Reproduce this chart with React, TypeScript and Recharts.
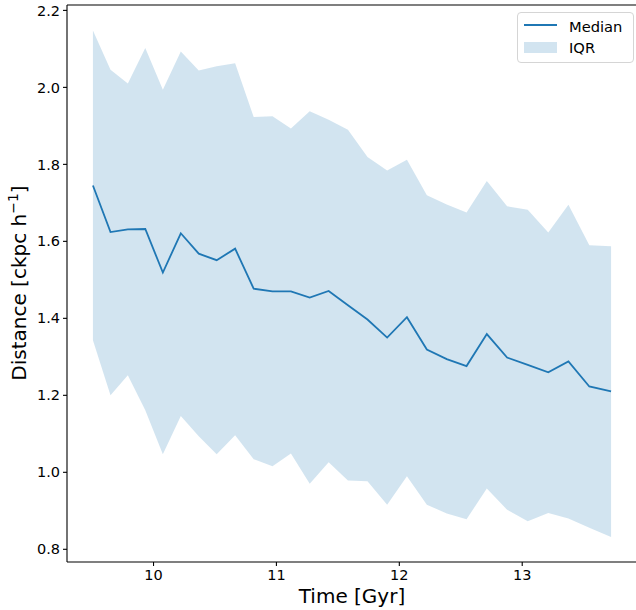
import React from 'react';
import { ComposedChart, Area, Line, XAxis, YAxis } from 'recharts';

const times = [9.507, 9.650, 9.791, 9.933, 10.076, 10.222, 10.368, 10.514, 10.664, 10.815, 10.968, 11.118, 11.271, 11.425, 11.582, 11.741, 11.901, 12.062, 12.224, 12.386, 12.547, 12.712, 12.877, 13.045, 13.212, 13.376, 13.546, 13.723];
const median = [1.745, 1.624, 1.631, 1.632, 1.519, 1.621, 1.568, 1.551, 1.581, 1.477, 1.470, 1.470, 1.454, 1.471, 1.434, 1.397, 1.350, 1.403, 1.319, 1.294, 1.276, 1.359, 1.298, 1.279, 1.260, 1.288, 1.223, 1.210];
const q75 = [2.148, 2.046, 2.010, 2.102, 1.994, 2.093, 2.044, 2.055, 2.063, 1.923, 1.925, 1.893, 1.938, 1.916, 1.890, 1.819, 1.784, 1.812, 1.720, 1.696, 1.675, 1.757, 1.691, 1.682, 1.623, 1.695, 1.590, 1.587];
const q25 = [1.343, 1.200, 1.252, 1.161, 1.047, 1.146, 1.094, 1.047, 1.096, 1.034, 1.016, 1.049, 0.970, 1.026, 0.979, 0.977, 0.916, 0.990, 0.916, 0.893, 0.878, 0.958, 0.903, 0.873, 0.894, 0.880, 0.856, 0.832];
const xTicks = [10, 11, 12, 13];
const yTicks = [0.8, 1.0, 1.2, 1.4, 1.6, 1.8, 2.0, 2.2];
const xDomain = [9.296, 13.934];
const yDomain = [0.767, 2.214];
const legendLabels = ['Median', 'IQR'];

const data = times.map((t, i) => ({ t, median: median[i], iqr: [q25[i], q75[i]] }));

const FONT = 'DejaVu Sans, sans-serif';
const BLUE = '#1f77b4';
const TICK_FS = 14.5;

const LegendBox = () => (
  <div
    style={{
      position: 'absolute',
      left: 517,
      top: 12,
      width: 117,
      height: 51,
      border: '1px solid #d5d5d5',
      borderRadius: 4,
      background: 'rgba(255,255,255,0.8)',
      boxSizing: 'border-box',
    }}
  >
    <svg width={117} height={51} style={{ position: 'absolute', left: -1, top: -1 }}>
      <line x1={7} x2={40} y1={13} y2={13} stroke={BLUE} strokeWidth={1.8} />
      <rect x={7} y={30} width={33} height={11} fill={BLUE} fillOpacity={0.2} />
      <text x={52} y={20} fontSize={14.7} fontFamily={FONT} fill="#000">{legendLabels[0]}</text>
      <text x={52} y={40.5} fontSize={14.7} fontFamily={FONT} fill="#000">{legendLabels[1]}</text>
    </svg>
  </div>
);

const YLabel = () => (
  <text
    x={26}
    y={283}
    transform="rotate(-90 26 283)"
    textAnchor="middle"
    fontSize={20}
    fontFamily={FONT}
    fill="#000"
  >
    Distance [ckpc h
    <tspan dy={-8} fontSize={14}>−1</tspan>
    <tspan dy={8}>]</tspan>
  </text>
);

const XLabel = (props: any) => {
  const vb = props.viewBox || { x: 67, y: 562, width: 571 };
  return (
    <text
      x={vb.x + vb.width / 2}
      y={603}
      textAnchor="middle"
      fontSize={20}
      fontFamily={FONT}
      fill="#000"
    >
      Time [Gyr]
    </text>
  );
};

export default function App() {
  return (
    <div
      style={{
        position: 'absolute',
        left: 0,
        top: 0,
        width: 636,
        height: 610,
        overflow: 'hidden',
        background: '#fff',
        fontFamily: FONT,
      }}
    >
      <ComposedChart
        width={645}
        height={610}
        data={data}
        margin={{ top: 4, right: 7, bottom: 0, left: 0 }}
      >
        <XAxis
          dataKey="t"
          type="number"
          domain={xDomain}
          ticks={xTicks}
          allowDataOverflow
          height={48}
          tickSize={4}
          tickMargin={4}
          tick={{ fontSize: TICK_FS, fill: '#000', fontFamily: FONT }}
          axisLine={{ stroke: '#000', strokeWidth: 1.1 }}
          tickLine={{ stroke: '#000', strokeWidth: 1.1 }}
          label={<XLabel />}
        />
        <XAxis
          xAxisId="top"
          orientation="top"
          type="number"
          dataKey="t"
          domain={xDomain}
          allowDataOverflow
          height={1}
          tick={false}
          tickLine={false}
          axisLine={{ stroke: '#000', strokeWidth: 1.1 }}
        />
        <YAxis
          type="number"
          domain={yDomain}
          ticks={yTicks}
          allowDataOverflow
          width={67}
          tickSize={4}
          tickMargin={3}
          tickFormatter={(v: number) => v.toFixed(1)}
          tick={{ fontSize: TICK_FS, fill: '#000', fontFamily: FONT }}
          axisLine={{ stroke: '#000', strokeWidth: 1.1 }}
          tickLine={{ stroke: '#000', strokeWidth: 1.1 }}
          label={<YLabel />}
        />
        <YAxis
          yAxisId="right"
          orientation="right"
          type="number"
          domain={yDomain}
          allowDataOverflow
          width={1}
          tick={false}
          tickLine={false}
          axisLine={{ stroke: '#000', strokeWidth: 1.1 }}
        />
        <Area
          dataKey="iqr"
          name="IQR"
          type="linear"
          fill={BLUE}
          fillOpacity={0.2}
          stroke="none"
          isAnimationActive={false}
          activeDot={false}
          dot={false}
        />
        <Line
          dataKey="median"
          name="Median"
          type="linear"
          stroke={BLUE}
          strokeWidth={1.8}
          dot={false}
          activeDot={false}
          isAnimationActive={false}
        />
      </ComposedChart>
      <LegendBox />
    </div>
  );
}
